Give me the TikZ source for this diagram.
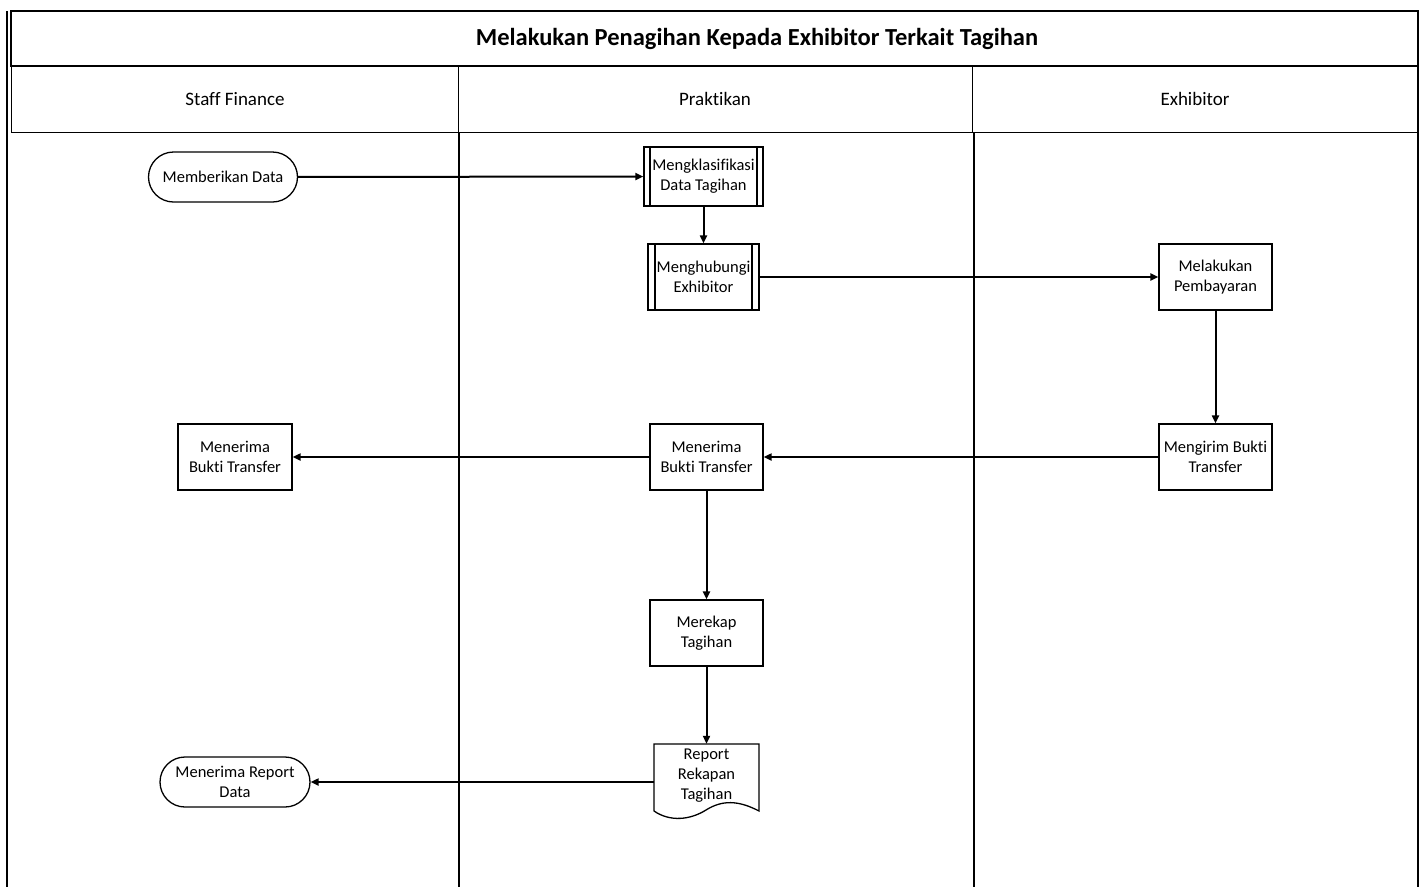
\documentclass[tikz,border=0pt]{standalone}
\usepackage{fontspec}
\setmainfont[Ligatures=NoCommon]{Carlito}
\usetikzlibrary{arrows.meta,shapes.misc}
\begin{document}
\begin{tikzpicture}[x=1pt,y=-1pt,
  every node/.style={font=\fontsize{16.5}{20}\selectfont, align=center, inner sep=2pt},
  proc/.style={draw, line width=1.3pt, minimum width=113pt, minimum height=66pt},
  term/.style={draw, line width=1.3pt, rounded rectangle, minimum height=50pt},
  arr/.style={line width=2pt, -{Triangle[length=8pt,width=7pt]}},
  lane/.style={line width=2pt},
  thinl/.style={line width=1pt},
  head/.style={font=\fontsize{19}{22}\selectfont}]
\useasboundingbox (0,0) rectangle (1424,887);
% frame
\draw[line width=2pt] (11,11) rectangle (1418,66);
\draw[thinl] (11,66) rectangle (1418,132);
\draw[line width=1.3pt] (7,11) -- (7,887);
\draw[lane] (1418,11) -- (1418,887);
\draw[thinl] (458,66) -- (458,132);
\draw[thinl] (972,66) -- (972,132);
\draw[lane] (459,132) -- (459,887);
\draw[lane] (974,132) -- (974,887);
\node (title) at (757,39) {\bfseries\fontsize{24.5}{28}\selectfont Melakukan Penagihan Kepada Exhibitor Terkait Tagihan};
\node[head] (h1) at (235,99) {Staff Finance};
\node[head] (h2) at (715,99) {Praktikan};
\node[head] (h3) at (1195,99) {Exhibitor};
% nodes
\node[term, minimum width=153pt] (md) at (223,177) {Memberikan Data};
\node[proc, minimum width=119pt, minimum height=59pt, inner sep=0pt] (mk) at (703.5,176.5) {Mengklasifikasi\\Data Tagihan};
\draw[line width=1.3pt] (650,147) -- (650,206) (757,147) -- (757,206);
\node[proc, minimum width=111pt] (mh) at (703.5,277) {Menghubungi\\Exhibitor};
\draw[line width=1.3pt] (655,244) -- (655,310) (752,244) -- (752,310);
\node[proc] (mp) at (1215.5,277) {Melakukan\\Pembayaran};
\node[proc, inner sep=0pt] (mb) at (1215.5,457) {Mengirim Bukti\\Transfer};
\node[proc] (mt) at (706.5,457) {Menerima\\Bukti Transfer};
\node[proc, minimum width=114pt] (ms) at (235,457) {Menerima\\Bukti Transfer};
\node[proc] (mr) at (706.5,633) {Merekap\\Tagihan};
\node[minimum width=105pt, minimum height=64pt] (rr) at (706.5,776) {Report\\Rekapan\\Tagihan};
\draw[line width=1.3pt] (654,811) -- (654,744) -- (759,744) -- (759,811)
  .. controls (738,800) and (722,800) .. (706,810)
  .. controls (690,820) and (670,822) .. (654,811);
\node[term, minimum width=154pt] (mrd) at (235,782) {Menerima Report\\Data};
% connectors
\draw[arr] (md) -- (mk);
\draw[arr] (mk) -- (mh);
\draw[arr] (mh) -- (mp);
\draw[arr] (mp) -- (mb);
\draw[arr] (mb) -- (mt);
\draw[arr] (mt) -- (ms);
\draw[arr] (mt) -- (mr);
\draw[arr] (mr) -- (rr.north);
\draw[arr] (rr.west |- mrd.east) -- (mrd.east);
\end{tikzpicture}
\end{document}
